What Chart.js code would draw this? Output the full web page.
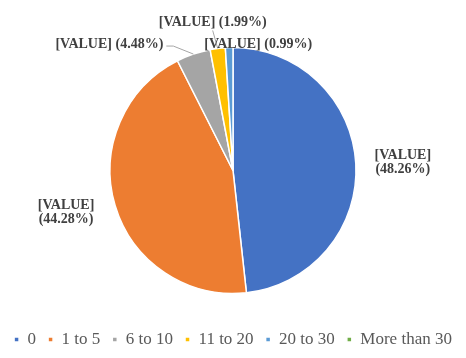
<!DOCTYPE html>
<html>
<head>
    <title>Share by group</title>
    <script src="https://cdn.jsdelivr.net/npm/chart.js"></script>
    <style>
        html, body {
            margin: 0;
            padding: 0;
            background: #ffffff;
        }
        #wrap {
            width: 466px;
            height: 358px;
        }
    </style>
</head>
<body>
    <div id="wrap">
        <canvas id="shareChart" width="466" height="358"></canvas>
    </div>

    <script>
        const categories = ["0", "1 to 5", "6 to 10", "11 to 20", "20 to 30", "More than 30"];
        const shares = [48.26, 44.28, 4.48, 1.99, 0.99, 0];
        const sliceColors = ["#4472C4", "#ED7D31", "#A5A5A5", "#FFC000", "#5B9BD5", "#70AD47"];

        // where each value label sits, relative to the outer midpoint of its slice
        const labelPlacement = [
            { dx: 47, dy: -1, wrap: true },
            { dx: -49, dy: 7, wrap: true },
            { dx: -84, dy: -10, leader: "side" },
            { dx: -5, dy: -26, leader: "below" },
            { dx: 29, dy: -3 },
            null
        ];

        const valueLabels = {
            id: "valueLabels",
            afterDatasetsDraw(chart) {
                const ctx = chart.ctx;
                const meta = chart.getDatasetMeta(0);
                ctx.save();
                ctx.font = "bold 14px 'Liberation Serif'";
                ctx.textAlign = "center";
                ctx.textBaseline = "middle";
                meta.data.forEach((arc, i) => {
                    const v = shares[i];
                    const p = labelPlacement[i];
                    if (!v || !p) return;
                    const mid = (arc.startAngle + arc.endAngle) / 2;
                    const ex = arc.x + Math.cos(mid) * arc.outerRadius;
                    const ey = arc.y + Math.sin(mid) * arc.outerRadius;
                    const lx = ex + p.dx;
                    const ly = ey + p.dy;
                    const pct = "(" + v.toFixed(2) + "%)";
                    const lines = p.wrap ? ["[VALUE]", pct] : ["[VALUE] " + pct];

                    if (p.leader) {
                        ctx.strokeStyle = "#a6a6a6";
                        ctx.lineWidth = 1;
                        ctx.beginPath();
                        if (p.leader === "side") {
                            const w = ctx.measureText(lines[0]).width;
                            ctx.moveTo(lx + w / 2 + 3, ly + 2);
                            ctx.lineTo(lx + w / 2 + 10, ly + 2);
                        } else {
                            ctx.moveTo(lx, ly + 8);
                        }
                        ctx.lineTo(ex, ey);
                        ctx.stroke();
                    }

                    ctx.fillStyle = "#404040";
                    const lh = 14;
                    const top = ly - (lines.length - 1) * lh / 2;
                    lines.forEach((t, k) => ctx.fillText(t, lx, top + k * lh));
                });
                ctx.restore();
            }
        };

        const ctx = document.getElementById("shareChart").getContext("2d");
        new Chart(ctx, {
            type: "pie",
            data: {
                labels: categories,
                datasets: [{
                    data: shares,
                    backgroundColor: sliceColors,
                    borderColor: "#ffffff",
                    borderWidth: 1.5
                }]
            },
            options: {
                responsive: false,
                animation: false,
                radius: 123,
                layout: {
                    padding: { top: 22, bottom: 0 }
                },
                plugins: {
                    legend: {
                        position: "bottom",
                        labels: {
                            usePointStyle: true,
                            pointStyle: "rect",
                            boxWidth: 5,
                            boxHeight: 5,
                            padding: 12,
                            color: "#595959",
                            font: { family: "'Liberation Serif'", size: 17 }
                        }
                    },
                    tooltip: { enabled: false }
                }
            },
            plugins: [valueLabels]
        });
    </script>
</body>
</html>
